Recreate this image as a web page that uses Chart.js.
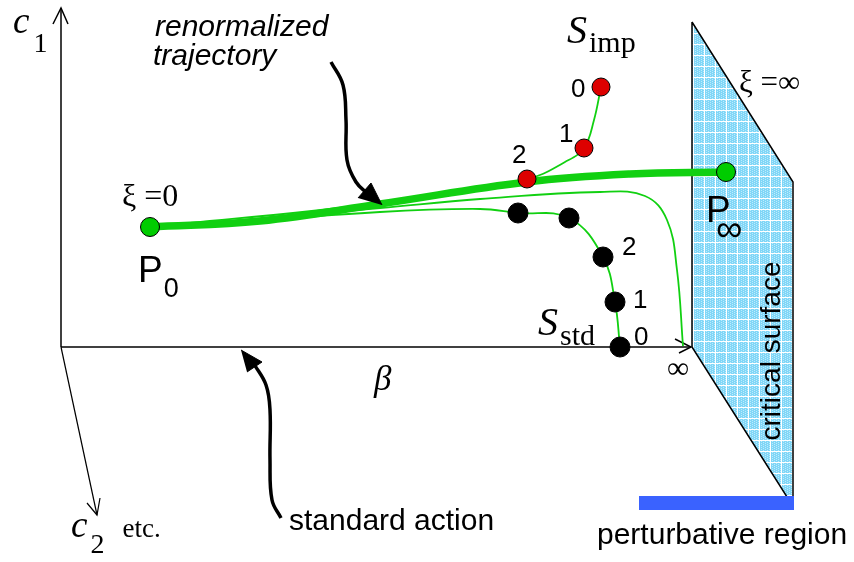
<!DOCTYPE html>
<html>
<head>
<meta charset="utf-8">
<script src="https://cdn.jsdelivr.net/npm/chart.js@4/dist/chart.umd.min.js"></script>
<style>
  html, body { margin: 0; padding: 0; background: #fff; }
  #wrap { width: 854px; height: 562px; }
</style>
</head>
<body>
<div id="wrap"><canvas id="c" width="854" height="562"></canvas></div>
<script>
// diagram coordinates (pixel-like units, y grows downward)
const axisC1 = [[61, 347], [61, 8]];
const axisBeta = [[61, 347], [691, 347]];
const axisC2 = [[61, 347], [97, 515]];
const headC1 = [[53, 24], [61, 8], [68, 24]];
const headBeta = [[675, 339], [691, 347], [679, 353]];
const headC2 = [[87, 503], [97, 515], [100, 498]];

const criticalSurface = [[692, 22], [793, 182], [793, 497], [787, 497], [692, 347], [692, 22]];
const perturbativeBar = [[639, 503], [794, 503]];

const trajThick = [[150, 227], [260, 221], [380, 204], [527, 182], [630, 174], [726, 172]];
const trajImp = [[150, 227], [380, 203], [527, 179], [565, 162], [584, 148], [594, 120], [601, 87]];
const trajCrit = [[150, 228], [380, 208], [480, 199], [600, 192], [645, 196], [667, 220], [677, 270], [683, 346]];
const trajStd = [[150, 228], [380, 212], [480, 209], [518, 213], [569, 218], [603, 257], [615, 302], [620, 347]];

const sImpX = [601, 584, 527];
const sImpY = [87, 148, 179];
const sImpLabels = ['0', '1', '2'];
const sStdX = [518, 569, 603, 615, 620];
const sStdY = [213, 218, 257, 302, 347];
const fixedX = [150, 726];
const fixedY = [227, 172];

const arrowRenorm = [[331, 62], [343, 85], [346, 120], [347, 160], [356, 182], [368, 194]];
const headRenorm = [[358, 198], [371, 183], [382, 205]];
const arrowStd = [[281, 518], [272, 500], [270, 460], [270, 410], [266, 385], [254, 364]];
const headStd = [[247, 372], [262, 362], [241, 350]];

const SANS = '"Liberation Sans", Arial, sans-serif';
const SERIF = '"Liberation Serif", "Times New Roman", serif';

const texts = [
  { x: 13, y: 33, parts: [{ t: 'c', f: 'italic 37px ' + SERIF }, { t: '1', f: '28px ' + SERIF, dx: 4, dy: 19 }] },
  { x: 155, y: 36, parts: [{ t: 'renormalized', f: 'italic 30px ' + SANS }] },
  { x: 153, y: 65, parts: [{ t: 'trajectory', f: 'italic 30px ' + SANS }] },
  { x: 567, y: 43, parts: [{ t: 'S', f: 'italic 40px ' + SERIF }, { t: 'imp', f: '30px ' + SERIF, dx: 2, dy: 9 }] },
  { x: 571, y: 97, parts: [{ t: sImpLabels[0], f: '26px ' + SANS }] },
  { x: 559, y: 142, parts: [{ t: sImpLabels[1], f: '26px ' + SANS }] },
  { x: 512, y: 163, parts: [{ t: sImpLabels[2], f: '26px ' + SANS }] },
  { x: 122, y: 206, parts: [{ t: 'ξ =0', f: '32px ' + SERIF }] },
  { x: 739, y: 92, parts: [{ t: 'ξ =∞', f: '31px ' + SERIF }] },
  { x: 138, y: 282, parts: [{ t: 'P', f: '37px ' + SANS }, { t: '0', f: '27px ' + SANS, dx: 1, dy: 15 }] },
  { x: 706, y: 222, parts: [{ t: 'P', f: '37px ' + SANS }] },
  { x: 716, y: 241, parts: [{ t: '∞', f: '37px ' + SANS }] },
  { x: 538, y: 335, parts: [{ t: 'S', f: 'italic 40px ' + SERIF }, { t: 'std', f: '30px ' + SERIF, dx: 2, dy: 10 }] },
  { x: 622, y: 255, parts: [{ t: '2', f: '26px ' + SANS }] },
  { x: 633, y: 308, parts: [{ t: '1', f: '26px ' + SANS }] },
  { x: 634, y: 345, parts: [{ t: '0', f: '26px ' + SANS }] },
  { x: 667, y: 378, parts: [{ t: '∞', f: '31px ' + SERIF }] },
  { x: 374, y: 390, parts: [{ t: 'β', f: 'italic 35px ' + SERIF }] },
  { x: 71, y: 537, parts: [{ t: 'c', f: 'italic 37px ' + SERIF }, { t: '2', f: '28px ' + SERIF, dx: 3, dy: 16 }, { t: 'etc.', f: '27px ' + SERIF, dx: 18, dy: 0 }] },
  { x: 289, y: 530, parts: [{ t: 'standard action', f: '30px ' + SANS }] },
  { x: 597, y: 544, parts: [{ t: 'perturbative region', f: '30px ' + SANS }] },
  { x: 772, y: 351, rot: true, parts: [{ t: 'critical surface', f: '28px ' + SANS }] }
];

function gridPattern() {
  const pc = document.createElement('canvas');
  pc.width = 11; pc.height = 11;
  const g = pc.getContext('2d');
  g.fillStyle = '#80d6f7';
  g.fillRect(0, 0, 11, 11);
  g.fillStyle = '#bdecfc';
  for (let i = 0; i < 11; i += 2) for (let j = (i / 2) % 2; j < 11; j += 2) g.fillRect(i, j, 1, 1);
  g.fillStyle = '#ffffff';
  g.fillRect(0, 0, 11, 1);
  g.fillRect(0, 0, 1, 11);
  return g.createPattern(pc, 'repeat');
}

const pts = a => a.map(p => ({ x: p[0], y: p[1] }));
const xy = (xs, ys) => xs.map((x, i) => ({ x, y: ys[i] }));

function line(data, color, width, extra) {
  return Object.assign({
    data: pts(data), showLine: true, borderColor: color, borderWidth: width,
    pointRadius: 0, tension: 0, fill: false
  }, extra || {});
}
function dots(data, color, r) {
  return {
    data, showLine: false, pointRadius: r, pointBackgroundColor: color,
    pointBorderColor: '#000', pointBorderWidth: 1
  };
}

const GREEN = '#11d011';
// listed bottom to top
const layers = [
  line(criticalSurface, '#000', 1.5, { fill: 'shape', backgroundColor: gridPattern() }),
  line(perturbativeBar, '#3a62ff', 14, { borderCapStyle: 'butt' }),
  line(axisC1, '#000', 1.5), line(axisBeta, '#000', 1.5), line(axisC2, '#000', 1.2),
  line(headC1, '#000', 1.5), line(headBeta, '#000', 1.5), line(headC2, '#000', 1.2),
  line(trajImp, GREEN, 1.8, { tension: 0.4 }),
  line(trajCrit, GREEN, 1.8, { tension: 0.4 }),
  line(trajStd, GREEN, 1.8, { tension: 0.4 }),
  line(trajThick, GREEN, 7.5, { tension: 0.4, borderCapStyle: 'round' }),
  line(arrowRenorm, '#000', 3.5, { tension: 0.4 }),
  line(headRenorm, '#000', 1, { fill: 'shape', backgroundColor: '#000' }),
  line(arrowStd, '#000', 3.5, { tension: 0.4 }),
  line(headStd, '#000', 1, { fill: 'shape', backgroundColor: '#000' }),
  dots(xy(sImpX, sImpY), '#dd0000', 9),
  dots(xy(sStdX, sStdY), '#000', 10),
  dots(xy(fixedX, fixedY), '#00cc00', 9.5)
];

const textPlugin = {
  id: 'diagramText',
  afterDatasetsDraw(chart) {
    const ctx = chart.ctx, sx = chart.scales.x, sy = chart.scales.y;
    ctx.save();
    ctx.fillStyle = '#000';
    ctx.textBaseline = 'alphabetic';
    texts.forEach(l => {
      const px = sx.getPixelForValue(l.x), py = sy.getPixelForValue(l.y);
      if (l.rot) {
        ctx.save();
        ctx.translate(px, py);
        ctx.rotate(-Math.PI / 2);
        ctx.font = l.parts[0].f;
        ctx.textAlign = 'center';
        ctx.textBaseline = 'middle';
        ctx.fillText(l.parts[0].t, 0, 0);
        ctx.restore();
        return;
      }
      ctx.textAlign = 'left';
      let cx = px;
      l.parts.forEach(p => {
        ctx.font = p.f;
        cx += p.dx || 0;
        ctx.fillText(p.t, cx, py + (p.dy || 0));
        cx += ctx.measureText(p.t).width;
      });
    });
    ctx.restore();
  }
};

new Chart(document.getElementById('c').getContext('2d'), {
  type: 'scatter',
  data: { datasets: layers.slice().reverse() },
  options: {
    responsive: false,
    animation: false,
    events: [],
    layout: { padding: 0, autoPadding: false },
    plugins: { legend: { display: false }, tooltip: { enabled: false } },
    scales: {
      x: { type: 'linear', min: 0, max: 854, display: false },
      y: { type: 'linear', min: 0, max: 562, reverse: true, display: false }
    }
  },
  plugins: [textPlugin]
});
</script>
</body>
</html>
